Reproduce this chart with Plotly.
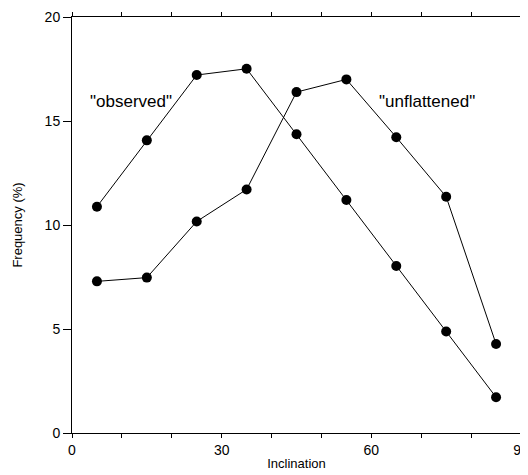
import plotly.graph_objects as go

inclination = [5, 15, 25, 35, 45, 55, 65, 75, 85]
observed = [10.88, 14.07, 17.21, 17.51, 14.36, 11.2, 8.03, 4.88, 1.72]
unflattened = [7.29, 7.47, 10.17, 11.71, 16.39, 17.0, 14.22, 11.36, 4.28]

x_tickvals = [0, 30, 60, 90]
y_tickvals = [0, 5, 10, 15, 20]

FONT = "Liberation Sans, Arial, Helvetica, sans-serif"

fig = go.Figure()
for name, vals in [("observed", observed), ("unflattened", unflattened)]:
    fig.add_trace(go.Scatter(
        x=inclination, y=vals, mode="lines+markers", name=name,
        line=dict(color="black", width=1),
        marker=dict(color="black", size=10),
        showlegend=False,
    ))

fig.add_annotation(x=11.9, y=15.95, text='"observed"', showarrow=False,
                   font=dict(family=FONT, size=17, color="black"))
fig.add_annotation(x=71.2, y=15.95, text='"unflattened"', showarrow=False,
                   font=dict(family=FONT, size=17, color="black"))

# grey right-hand frame line drawn over the mirrored axis line
fig.add_shape(type="line", xref="paper", yref="paper", x0=1, x1=1, y0=0, y1=1.015,
              line=dict(color="#888888", width=1.5), layer="above")

fig.update_layout(
    width=520, height=467,
    margin=dict(l=64, r=7, t=9, b=42),
    paper_bgcolor="white", plot_bgcolor="white",
    font=dict(family=FONT, color="black"),
    xaxis=dict(
        range=[0, 90], tickvals=x_tickvals, showgrid=False, zeroline=False,
        automargin=False, ticklabeloverflow="allow",
        showline=True, linecolor="black", linewidth=1, mirror="allticks",
        ticks="outside", ticklen=4, tickcolor="black",
        minor=dict(dtick=10, ticks="outside", ticklen=4, tickcolor="black"),
        tickfont=dict(size=14),
        title=dict(text="Inclination", font=dict(size=13), standoff=2),
    ),
    yaxis=dict(
        range=[0, 20], tickvals=y_tickvals, showgrid=False, zeroline=False,
        automargin=False, ticklabeloverflow="allow",
        showline=True, linecolor="black", linewidth=1, mirror="allticks",
        ticks="outside", ticklen=8, tickcolor="black",
        tickfont=dict(size=14),
        title=dict(text="Frequency (%)", font=dict(size=13), standoff=19),
    ),
)

fig.write_html("out.html")
